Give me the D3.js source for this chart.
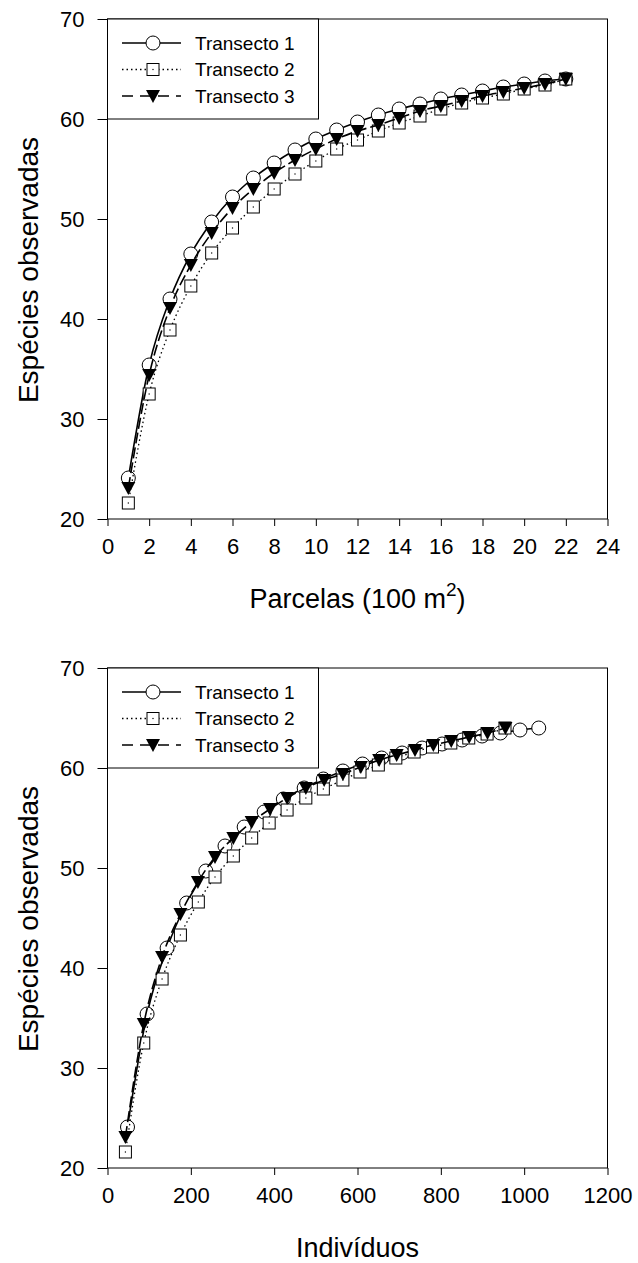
<!DOCTYPE html>
<html>
<head>
<meta charset="utf-8">
<script src="https://cdn.jsdelivr.net/npm/d3@7"></script>
<style>
  body { margin: 0; background: #fff; }
  svg text { font-family: "Liberation Sans", Arial, sans-serif; fill: #000; }
</style>
</head>
<body>
<div id="chart"></div>
<script>
// Species accumulation values (same y values in both panels)
var parcelas = [1, 2, 3, 4, 5, 6, 7, 8, 9, 10, 11, 12, 13, 14, 15, 16, 17, 18, 19, 20, 21, 22];
var transecto1 = [24.1, 35.4, 42.0, 46.5, 49.7, 52.2, 54.1, 55.6, 56.9, 58.0, 58.9, 59.7, 60.4, 61.0, 61.5, 62.0, 62.4, 62.8, 63.2, 63.5, 63.8, 64.0];
var transecto2 = [21.6, 32.5, 38.9, 43.3, 46.6, 49.1, 51.2, 53.0, 54.5, 55.8, 57.0, 57.9, 58.8, 59.6, 60.3, 61.0, 61.6, 62.1, 62.5, 63.0, 63.4, 64.0];
var transecto3 = [23.1, 34.4, 41.1, 45.4, 48.6, 51.1, 53.0, 54.6, 55.9, 57.0, 58.0, 58.8, 59.4, 60.1, 60.8, 61.3, 61.8, 62.3, 62.7, 63.1, 63.5, 64.0];

// Cumulative number of individuals per transect (bottom panel x values)
var individuos1 = [48, 95, 143, 190, 236, 282, 328, 376, 422, 472, 518, 565, 612, 658, 707, 755, 803, 851, 899, 943, 990, 1035];
var individuos2 = [43, 87, 131, 175, 218, 258, 302, 346, 388, 431, 476, 518, 565, 606, 650, 692, 736, 780, 824, 867, 911, 954];
var individuos3 = [43, 87, 131, 175, 217, 258, 302, 346, 390, 431, 476, 520, 565, 608, 652, 694, 738, 782, 825, 868, 912, 955];

var seriesNames = ["Transecto 1", "Transecto 2", "Transecto 3"];
var yTicks = [20, 30, 40, 50, 60, 70];
var xTicksTop = [0, 2, 4, 6, 8, 10, 12, 14, 16, 18, 20, 22, 24];
var xTicksBottom = [0, 200, 400, 600, 800, 1000, 1200];

var svg = d3
  .select("#chart")
  .append("svg")
  .attr("width", 638)
  .attr("height", 1263);

// line style per series: solid, dotted, dashed
var dashes = [null, "1.5,3", "11,4"];

function drawMarker(g, kind, x, y) {
  if (kind === 0) {
    g.append("circle")
      .attr("cx", x).attr("cy", y).attr("r", 7)
      .attr("fill", "#fff").attr("stroke", "#000").attr("stroke-width", 1);
  } else if (kind === 1) {
    g.append("rect")
      .attr("x", x - 6).attr("y", y - 6).attr("width", 12).attr("height", 12)
      .attr("fill", "#fff").attr("stroke", "#000").attr("stroke-width", 1);
    g.append("rect")
      .attr("x", x - 0.6).attr("y", y - 0.6).attr("width", 1.2).attr("height", 1.2)
      .attr("fill", "#000");
  } else {
    g.append("path")
      .attr("d", "M" + (x - 7) + "," + (y - 6) + "L" + (x + 7) + "," + (y - 6) + "L" + x + "," + (y + 7) + "Z")
      .attr("fill", "#000");
  }
}

function drawPanel(top, xDomain, xTicks, xSets, xTitle, superscript) {
  var left = 107.5, right = 607.5, bottom = top + 500;

  var x = d3.scaleLinear().domain(xDomain).range([left, right]);
  var y = d3.scaleLinear().domain([20, 70]).range([bottom, top]);

  var g = svg.append("g");

  // frame
  g.append("rect")
    .attr("x", left).attr("y", top)
    .attr("width", right - left).attr("height", bottom - top)
    .attr("fill", "none").attr("stroke", "#000").attr("stroke-width", 1);

  // axes with outward ticks
  var xAxis = g.append("g")
    .attr("transform", "translate(0," + bottom + ")")
    .call(d3.axisBottom(x).tickValues(xTicks).tickSize(7).tickPadding(12).tickFormat(d3.format("d")));
  var yAxis = g.append("g")
    .attr("transform", "translate(" + left + ",0)")
    .call(d3.axisLeft(y).tickValues(yTicks).tickSize(10).tickPadding(13));
  [xAxis, yAxis].forEach(function (a) {
    a.select(".domain").remove();
    a.selectAll("text").style("font-size", "22px").attr("fill", "#000");
    a.selectAll("line").attr("stroke", "#000");
  });

  var ySets = [transecto1, transecto2, transecto3];

  ySets.forEach(function (vals, i) {
    var pts = vals.map(function (v, j) { return [xSets[i][j], v]; });
    var line = d3.line()
      .x(function (d) { return x(d[0]); })
      .y(function (d) { return y(d[1]); })
      .curve(d3.curveMonotoneX);
    g.append("path")
      .datum(pts)
      .attr("d", line)
      .attr("fill", "none")
      .attr("stroke", "#000")
      .attr("stroke-width", i === 1 ? 1.3 : 1.6)
      .attr("stroke-dasharray", dashes[i]);
    var mg = g.append("g");
    pts.forEach(function (d) {
      drawMarker(mg, i, x(d[0]), y(d[1]));
    });
  });

  // legend
  var lg = g.append("g");
  lg.append("rect")
    .attr("x", left).attr("y", top)
    .attr("width", 211).attr("height", 100)
    .attr("fill", "#fff").attr("stroke", "#000").attr("stroke-width", 1);
  seriesNames.forEach(function (name, i) {
    var ly = top + 24 + i * 26.5;
    lg.append("line")
      .attr("x1", 122).attr("x2", 181).attr("y1", ly).attr("y2", ly)
      .attr("stroke", "#000")
      .attr("stroke-width", i === 1 ? 1.3 : 1.6)
      .attr("stroke-dasharray", i === 2 ? "11,7" : dashes[i]);
    drawMarker(lg, i, 153, ly);
    lg.append("text")
      .attr("x", 195).attr("y", ly)
      .attr("dy", "0.35em")
      .style("font-size", "19px")
      .text(name);
  });

  // axis titles
  var t = g.append("text")
    .attr("x", (left + right) / 2)
    .attr("y", bottom + 89)
    .attr("text-anchor", "middle")
    .style("font-size", "27px")
    .text(xTitle);
  if (superscript) {
    t.append("tspan").attr("dy", -12).style("font-size", "19px").text(superscript);
    t.append("tspan").attr("dy", 12).text(")");
  }

  g.append("text")
    .attr("transform", "translate(38," + (top + 251) + ") rotate(-90)")
    .attr("text-anchor", "middle")
    .style("font-size", "28px")
    .text("Espécies observadas");
}

drawPanel(19, [0, 24], xTicksTop, [parcelas, parcelas, parcelas], "Parcelas (100 m", "2");
drawPanel(668, [0, 1200], xTicksBottom, [individuos1, individuos2, individuos3], "Indivíduos", null);
</script>
</body>
</html>
